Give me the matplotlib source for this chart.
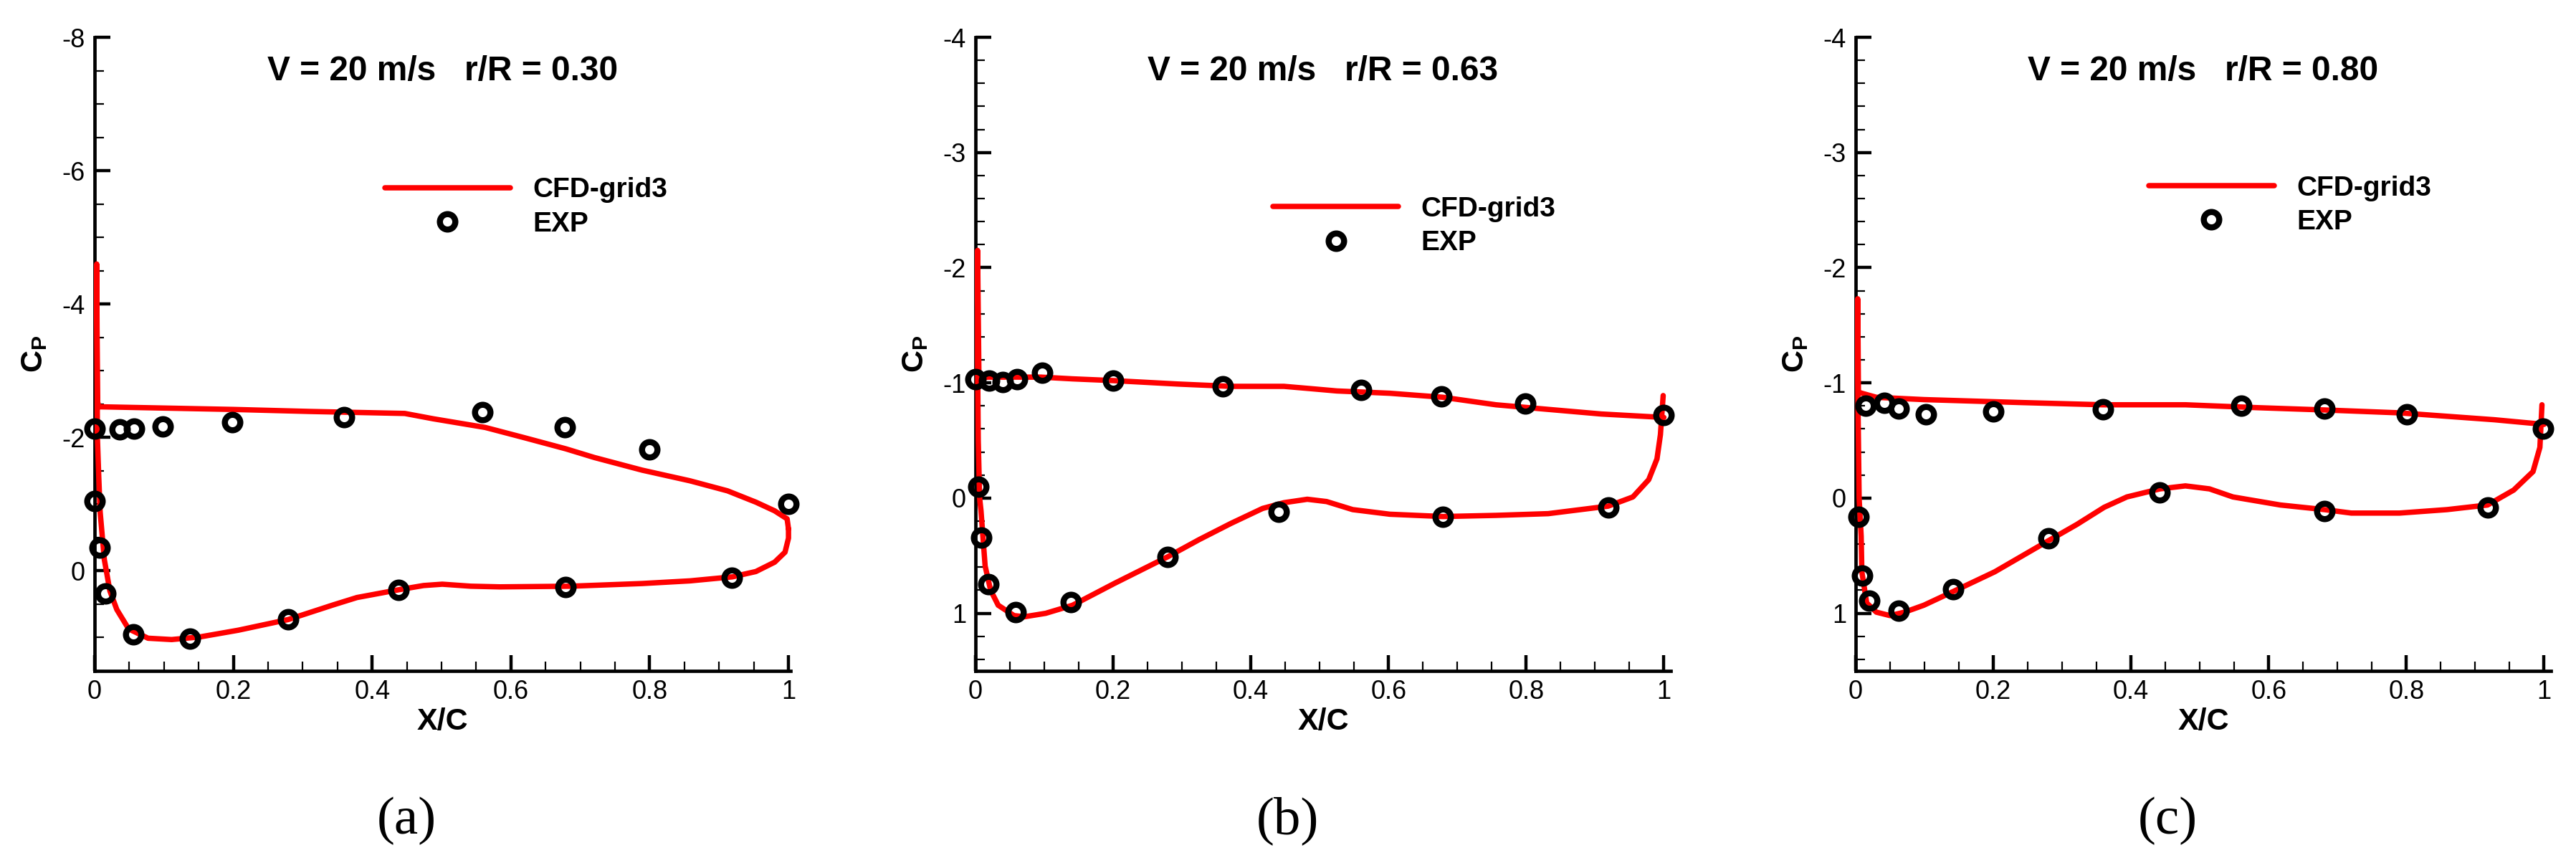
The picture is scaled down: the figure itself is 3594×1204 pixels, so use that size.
import matplotlib
matplotlib.use("Agg")
import matplotlib.pyplot as plt
from matplotlib.ticker import MultipleLocator, FixedLocator, FixedFormatter
from matplotlib.lines import Line2D

plt.rcParams['font.family'] = ['Liberation Sans', 'DejaVu Sans']
plt.rcParams['axes.unicode_minus'] = False
plt.rcParams['mathtext.fontset'] = 'custom'
plt.rcParams['mathtext.rm'] = 'Liberation Sans:bold'
plt.rcParams['mathtext.bf'] = 'Liberation Sans:bold'
plt.rcParams['mathtext.it'] = 'Liberation Sans:bold'

# ---------------- data ----------------
titles = ["V = 20 m/s   r/R = 0.30", "V = 20 m/s   r/R = 0.63", "V = 20 m/s   r/R = 0.80"]
panel_tags = ["(a)", "(b)", "(c)"]
legend_labels = ["CFD-grid3", "EXP"]

# panel (a)  r/R = 0.30
cfd_x_a = [1.0, 0.998, 0.98, 0.953, 0.912, 0.858, 0.789, 0.72, 0.679, 0.618, 0.563, 0.488, 0.447, 0.31, 0.2, 0.104, 0.006, 0.004,
           0.003,
           0.004, 0.006, 0.008, 0.014, 0.022, 0.032, 0.049, 0.077, 0.111, 0.152, 0.207, 0.279, 0.344, 0.378, 0.44, 0.474,
           0.501, 0.542, 0.584, 0.686, 0.789, 0.858, 0.919, 0.953, 0.98, 0.995, 1.0, 1.0]
cfd_cp_a = [-0.63, -0.78, -0.90, -1.03, -1.20, -1.35, -1.51, -1.70, -1.83, -2.00, -2.15, -2.28, -2.36, -2.39, -2.42, -2.44, -2.46, -2.55,
            -4.6,
            -2.0, -1.4, -0.88, -0.17, 0.30, 0.58, 0.87, 1.01, 1.03, 0.99, 0.89, 0.73, 0.51, 0.40, 0.28, 0.22,
            0.20, 0.23, 0.24, 0.23, 0.19, 0.15, 0.09, 0.01, -0.13, -0.28, -0.49, -0.63]
exp_x_a = [0.0, 0.036, 0.057, 0.098, 0.198, 0.359, 0.559, 0.678, 0.8, 1.0,
           0.0, 0.007, 0.016, 0.056, 0.137, 0.279, 0.438, 0.679, 0.918]
exp_cp_a = [-2.13, -2.12, -2.13, -2.16, -2.23, -2.30, -2.38, -2.15, -1.82, -1.0,
            -1.05, -0.35, 0.34, 0.95, 1.02, 0.73, 0.29, 0.24, 0.10]

# panel (b)  r/R = 0.63
cfd_x_b = [1.0, 0.909, 0.832, 0.756, 0.679, 0.602, 0.525, 0.487, 0.448, 0.371, 0.294, 0.2, 0.141, 0.095, 0.056, 0.018, 0.005,
           0.003,
           0.003, 0.004, 0.006, 0.008, 0.014, 0.022, 0.033, 0.056, 0.071, 0.102, 0.141, 0.202, 0.279, 0.325, 0.371, 0.417,
           0.448, 0.482, 0.51, 0.548, 0.602, 0.679, 0.756, 0.832, 0.919, 0.955, 0.978, 0.99, 0.995, 0.999]
cfd_cp_b = [-0.70, -0.73, -0.77, -0.81, -0.875, -0.91, -0.93, -0.95, -0.97, -0.97, -0.99, -1.02, -1.035, -1.05, -1.05, -1.05, -1.04,
            -2.15,
            -1.2, -0.5, 0.0, 0.11, 0.59, 0.80, 0.93, 1.02, 1.03, 1.0, 0.93, 0.74, 0.51, 0.36, 0.22, 0.09,
            0.04, 0.01, 0.03, 0.10, 0.14, 0.16, 0.15, 0.135, 0.07, -0.01, -0.16, -0.34, -0.55, -0.89]
exp_x_b = [0.0, 0.02, 0.04, 0.06, 0.097, 0.2, 0.359, 0.56, 0.677, 0.799, 1.0,
           0.004, 0.008, 0.019, 0.058, 0.138, 0.279, 0.44, 0.679, 0.919]
exp_cp_b = [-1.03, -1.02, -1.01, -1.03, -1.09, -1.02, -0.97, -0.94, -0.88, -0.82, -0.72,
            -0.10, 0.34, 0.75, 0.99, 0.90, 0.51, 0.12, 0.16, 0.08]

# panel (c)  r/R = 0.80
cfd_x_c = [1.0, 0.928, 0.859, 0.79, 0.681, 0.583, 0.479, 0.359, 0.237, 0.099, 0.03, 0.009, 0.004,
           0.003,
           0.003, 0.004, 0.005, 0.008, 0.009, 0.016, 0.030, 0.05, 0.071, 0.099, 0.142, 0.202, 0.28, 0.321, 0.361, 0.394,
           0.442, 0.479, 0.514, 0.548, 0.617, 0.681, 0.72, 0.79, 0.859, 0.918, 0.956, 0.984, 0.994, 0.997]
cfd_cp_c = [-0.64, -0.68, -0.71, -0.74, -0.765, -0.785, -0.81, -0.81, -0.83, -0.855, -0.875, -0.91, -0.92,
            -1.73,
            -1.0, -0.5, 0.0, 0.33, 0.64, 0.91, 0.99, 1.02, 0.99, 0.93, 0.81, 0.64, 0.37, 0.23, 0.08, -0.01,
            -0.08, -0.106, -0.08, -0.01, 0.06, 0.10, 0.13, 0.13, 0.10, 0.06, -0.07, -0.23, -0.44, -0.81]
exp_x_c = [0.015, 0.042, 0.062, 0.102, 0.2, 0.359, 0.56, 0.681, 0.801, 0.999,
           0.004, 0.009, 0.02, 0.062, 0.142, 0.28, 0.442, 0.681, 0.918]
exp_cp_c = [-0.80, -0.83, -0.78, -0.73, -0.75, -0.77, -0.80, -0.78, -0.73, -0.60,
            0.16, 0.67, 0.89, 0.98, 0.79, 0.35, -0.05, 0.11, 0.08]

x_ticks = [0, 0.2, 0.4, 0.6, 0.8, 1.0]
x_ticklabels = ["0", "0.2", "0.4", "0.6", "0.8", "1"]
y_ticks_a = [-8, -6, -4, -2, 0]
y_ticklabels_a = ["-8", "-6", "-4", "-2", "0"]
y_ticks_bc = [-4, -3, -2, -1, 0, 1]
y_ticklabels_bc = ["-4", "-3", "-2", "-1", "0", "1"]

# ---------------- layout ----------------
W, H = 3594, 1204
fig = plt.figure(figsize=(W / 100, H / 100), dpi=100)

panels = [
    dict(cx=cfd_x_a, ccp=cfd_cp_a, ex=exp_x_a, ecp=exp_cp_a, left=132, width=971, xmax=1.003,
         ylim=(1.5, -8), yt=y_ticks_a, ytl=y_ticklabels_a, ymin=0.5, leg=(0.417, 0.779)),
    dict(cx=cfd_x_b, ccp=cfd_cp_b, ex=exp_x_b, ecp=exp_cp_b, left=1361, width=970, xmax=1.01,
         ylim=(1.5, -4), yt=y_ticks_bc, ytl=y_ticklabels_bc, ymin=0.2, leg=(0.428, 0.749)),
    dict(cx=cfd_x_c, ccp=cfd_cp_c, ex=exp_x_c, ecp=exp_cp_c, left=2589, width=970, xmax=1.01,
         ylim=(1.5, -4), yt=y_ticks_bc, ytl=y_ticklabels_bc, ymin=0.2, leg=(0.4216, 0.782)),
]

top_px, bot_px = 52, 936
red = '#ff0000'
lw_cfd = 5.4
ms, mew = 15.5, 6.1

for i, p in enumerate(panels):
    ax = fig.add_axes([p['left'] / W, (H - bot_px) / H, p['width'] / W, (bot_px - top_px) / H])
    line, = ax.plot(p['cx'], p['ccp'], color=red, lw=lw_cfd, solid_joinstyle='round',
                    solid_capstyle='round', clip_on=False, zorder=3, label=legend_labels[0])
    pts, = ax.plot(p['ex'], p['ecp'], linestyle='none', marker='o', markersize=ms,
                   markerfacecolor='none', markeredgecolor='black', markeredgewidth=mew,
                   clip_on=False, zorder=4, label=legend_labels[1])
    ax.set_xlim(0, p['xmax'])
    ax.set_ylim(*p['ylim'])

    for s in ['top', 'right']:
        ax.spines[s].set_visible(False)
    for s in ['left', 'bottom']:
        ax.spines[s].set_linewidth(3.4)

    ax.xaxis.set_major_locator(FixedLocator(x_ticks))
    ax.xaxis.set_major_formatter(FixedFormatter(x_ticklabels))
    ax.xaxis.set_minor_locator(MultipleLocator(0.05))
    ax.yaxis.set_major_locator(FixedLocator(p['yt']))
    ax.yaxis.set_major_formatter(FixedFormatter(p['ytl']))
    ax.yaxis.set_minor_locator(MultipleLocator(p['ymin']))

    ax.tick_params(which='both', direction='in', top=False, right=False)
    ax.tick_params(which='major', length=15.8, width=3.2, labelsize=26)
    ax.tick_params(which='minor', length=9.4, width=1.6)
    ax.tick_params(axis='x', which='major', pad=8.6)
    ax.tick_params(axis='y', which='major', pad=9.4)

    ax.set_xlabel("X/C", fontsize=31, fontweight='bold')
    ax.xaxis.set_label_coords(0.5, -0.058)
    ax.xaxis.label.set_verticalalignment('top')
    ax.set_ylabel(r'$\mathrm{C_P}$', fontsize=31)
    ax.yaxis.set_label_coords(-0.066, 0.5)

    ax.text(0.5, 0.946, titles[i], transform=ax.transAxes, ha='center', va='center',
            fontsize=34.5, fontweight='bold')

    ax.legend(handles=[line, pts], loc='upper left', bbox_to_anchor=p['leg'],
              frameon=False, borderpad=0, borderaxespad=0, numpoints=1,
              handlelength=4.5, handletextpad=0.8, labelspacing=0.29,
              prop=dict(family='Liberation Sans', weight='bold', size=28))

    fig.text((p['left'] + 435) / W, (H - 1145) / H, panel_tags[i], ha='center', va='center',
             fontsize=54, family=['Liberation Serif', 'DejaVu Serif'])

fig.savefig('out.png', dpi=100)
